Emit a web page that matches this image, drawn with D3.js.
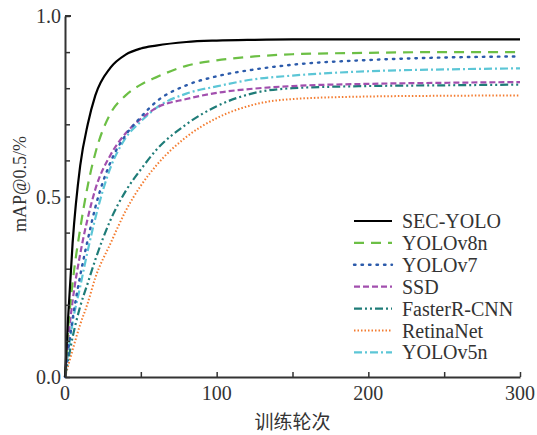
<!DOCTYPE html>
<html>
<head>
<meta charset="utf-8">
<script src="https://cdn.jsdelivr.net/npm/d3@7"></script>
<style>
  html, body { margin: 0; padding: 0; background: #fff; }
  svg { display: block; }
  .serif { font-family: 'Liberation Serif', 'Tinos', 'Times New Roman', 'DejaVu Serif', serif; }
  .cjk { font-family: 'Noto Sans CJK SC', sans-serif; }
</style>
</head>
<body>
<svg id="chart" width="537" height="435"></svg>
<script>
// epochs sampled along each training curve
const epochs = [0, 2, 5, 10, 15, 20, 30, 40, 50, 60, 80, 100, 125, 150, 200, 250, 300];

const secYolo    = [0, 0.16, 0.37, 0.585, 0.70, 0.78, 0.857, 0.893, 0.91, 0.918, 0.928, 0.932, 0.934, 0.935, 0.935, 0.935, 0.935];
const yolov8n    = [0, 0.13, 0.26, 0.41, 0.53, 0.62, 0.73, 0.78, 0.81, 0.83, 0.862, 0.877, 0.888, 0.894, 0.898, 0.90, 0.90];
const yolov7     = [0, 0.07, 0.16, 0.28, 0.38, 0.47, 0.595, 0.67, 0.72, 0.762, 0.808, 0.833, 0.852, 0.865, 0.878, 0.885, 0.888];
const ssd        = [0, 0.10, 0.21, 0.34, 0.44, 0.52, 0.615, 0.675, 0.715, 0.745, 0.77, 0.787, 0.799, 0.806, 0.812, 0.815, 0.817];
const fasterRcnn = [0, 0.045, 0.11, 0.195, 0.26, 0.325, 0.435, 0.515, 0.575, 0.628, 0.70, 0.75, 0.787, 0.80, 0.806, 0.808, 0.81];
const retinaNet  = [0, 0.03, 0.075, 0.145, 0.205, 0.275, 0.37, 0.46, 0.53, 0.585, 0.665, 0.717, 0.755, 0.77, 0.777, 0.779, 0.78];
const yolov5n    = [0, 0.065, 0.15, 0.25, 0.35, 0.44, 0.58, 0.662, 0.708, 0.745, 0.785, 0.805, 0.825, 0.835, 0.847, 0.852, 0.855];

const seriesNames = ['SEC-YOLO', 'YOLOv8n', 'YOLOv7', 'SSD', 'FasterR-CNN', 'RetinaNet', 'YOLOv5n'];
const seriesValues = [secYolo, yolov8n, yolov7, ssd, fasterRcnn, retinaNet, yolov5n];

const xTickLabels = [0, 100, 200, 300];
const yTickLabels = [0, 0.5, 1.0];

// styling per series (colour, dash, width)
const STYLES = [
  { color: '#000000', dash: null,            width: 2.2, cap: 'butt' },
  { color: '#6cbf45', dash: '10,7',          width: 2.2, cap: 'butt' },
  { color: '#2c5bab', dash: '1.5,6',         width: 2.4, cap: 'round' },
  { color: '#a24fae', dash: '6,3',           width: 2.2, cap: 'butt' },
  { color: '#1f7c78', dash: '8,3,2,3,2,3',   width: 2.2, cap: 'butt' },
  { color: '#f47c30', dash: '1.5,2',         width: 2.0, cap: 'butt' },
  { color: '#5cc6d6', dash: '8,3,2,3',       width: 2.2, cap: 'butt' }
];

const AXIS_COLOR = '#333';

const M = { left: 65, right: 17, top: 16, bottom: 58 };
const W = 537, H = 435;

const svg = d3.select('#chart');

const x = d3.scaleLinear().domain([0, 300]).range([M.left, W - M.right]);
const y = d3.scaleLinear().domain([0, 1]).range([H - M.bottom, M.top]);

// ── curves ──────────────────────────────────────────────
const line = d3.line()
  .x(d => x(d[0]))
  .y(d => y(d[1]))
  .curve(d3.curveMonotoneX);

const plot = svg.append('g');
// draw back to front so SEC-YOLO sits on top
seriesValues.map((vals, i) => i).reverse().forEach(i => {
  const st = STYLES[i];
  plot.append('path')
    .datum(epochs.map((e, k) => [e, seriesValues[i][k]]))
    .attr('d', line)
    .attr('fill', 'none')
    .attr('stroke', st.color)
    .attr('stroke-width', st.width)
    .attr('stroke-linecap', st.cap)
    .attr('stroke-dasharray', st.dash);
});

// ── axes ────────────────────────────────────────────────
const xAxis = svg.append('g')
  .attr('transform', `translate(0,${y(0)})`)
  .call(d3.axisBottom(x).tickValues(d3.range(0, 301, 50)).tickSize(-5).tickSizeOuter(0).tickFormat(''));
const yAxis = svg.append('g')
  .attr('transform', `translate(${x(0)},0)`)
  .call(d3.axisLeft(y).tickValues(d3.range(0, 1.001, 0.1)).tickSize(-5).tickSizeOuter(0).tickFormat(''));

[xAxis, yAxis].forEach(a => {
  a.select('.domain').attr('stroke', AXIS_COLOR).attr('stroke-width', 2);
  a.selectAll('.tick line').attr('stroke', AXIS_COLOR).attr('stroke-width', 1.5);
});
// top end cap on y axis
svg.append('line')
  .attr('x1', x(0)).attr('x2', x(0) + 6)
  .attr('y1', y(1)).attr('y2', y(1))
  .attr('stroke', AXIS_COLOR).attr('stroke-width', 2);

svg.append('g').selectAll('text')
  .data(xTickLabels)
  .join('text')
  .attr('class', 'serif')
  .attr('x', d => x(d))
  .attr('y', y(0) + 23)
  .attr('text-anchor', 'middle')
  .attr('font-size', 20)
  .attr('fill', '#333')
  .text(d => d);

svg.append('g').selectAll('text')
  .data(yTickLabels)
  .join('text')
  .attr('class', 'serif')
  .attr('x', x(0) - 4)
  .attr('y', d => y(d))
  .attr('dy', '0.35em')
  .attr('text-anchor', 'end')
  .attr('font-size', 20)
  .attr('fill', '#333')
  .text(d => d.toFixed(1));

// axis titles
svg.append('text')
  .attr('class', 'cjk')
  .attr('x', (x(0) + x(300)) / 2)
  .attr('y', 429)
  .attr('text-anchor', 'middle')
  .attr('font-size', 19)
  .attr('fill', '#333')
  .text('训练轮次');

svg.append('text')
  .attr('class', 'serif')
  .attr('transform', `translate(26,184) rotate(-90)`)
  .attr('text-anchor', 'middle')
  .attr('font-size', 18)
  .attr('fill', '#333')
  .text('mAP@0.5/%');

// ── legend ──────────────────────────────────────────────
const legend = svg.append('g').attr('transform', 'translate(354,221)');
seriesNames.forEach((name, i) => {
  const st = STYLES[i];
  const row = legend.append('g').attr('transform', `translate(0,${i * 21.9})`);
  row.append('line')
    .attr('x1', 0).attr('x2', 38)
    .attr('stroke', st.color)
    .attr('stroke-width', st.width)
    .attr('stroke-linecap', st.cap)
    .attr('stroke-dasharray', st.dash);
  row.append('text')
    .attr('class', 'serif')
    .attr('x', 48)
    .attr('dy', '0.35em')
    .attr('font-size', 20)
    .attr('fill', '#333')
    .text(name);
});
</script>
</body>
</html>
